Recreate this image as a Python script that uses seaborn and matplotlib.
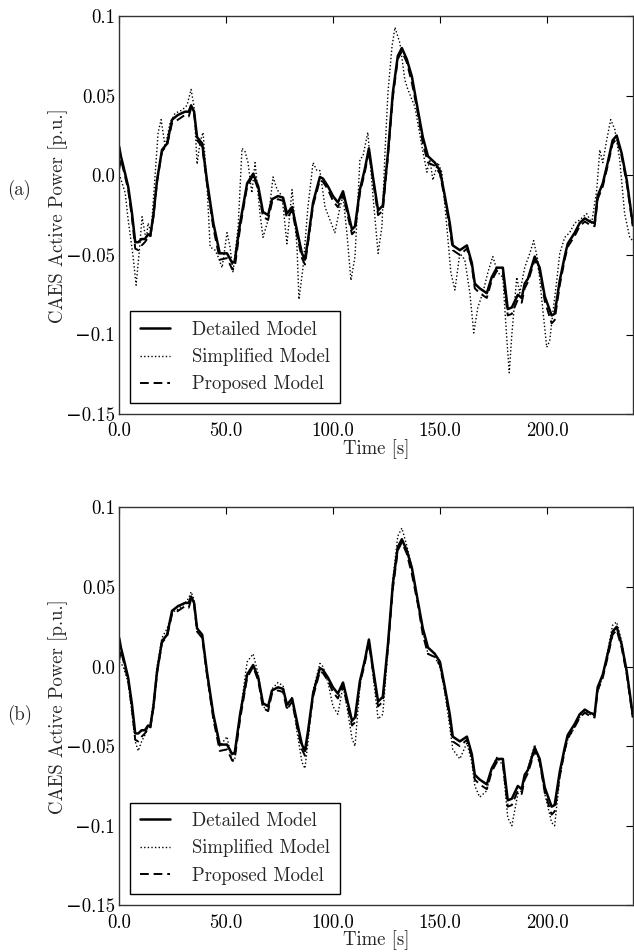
import numpy as np
import pandas as pd
import matplotlib
matplotlib.use("Agg")
import matplotlib.pyplot as plt
import seaborn as sns

# ---------------- data ----------------
t_det = [0, 0.8, 1.9, 4.2, 6.0, 7.5, 8.9, 10.5, 12.0, 13.5, 14.5, 16, 17.7, 20.0, 22.4, 24.7,
         27.5, 30.8, 32.5, 33.6, 35.0, 36.4, 38.8, 41.0, 44.0, 47.0, 50.4, 52.8, 54.0, 56.5,
         59.8, 62.6, 65.0, 67.2, 69.6, 71.4, 74.2, 76.6, 78.4, 80.8, 83.0, 85.4, 86.8, 88.2,
         90.6, 93.8, 95.2, 97.6, 99.9, 102.2, 104.6, 106.4, 108.8, 110.2, 112.5, 114.8, 116.7,
         118.6, 121.0, 123.2, 125.6, 127.9, 130.2, 132.1, 134.4, 136.8, 139.6, 141.9, 144.3,
         147.5, 149.9, 152.2, 154.5, 155.9, 159.2, 162.5, 164.8, 166.2, 168.5, 171.8, 174.1,
         176.5, 179.3, 181.6, 183.5, 186.3, 188.1, 189.5, 191.0, 194.2, 196.5, 198.9, 202.1,
         203.5, 205.9, 208.2, 209.6, 212.9, 215.2, 217.6, 219.9, 222.2, 223.6, 226.0, 228.3,
         230.6, 232.5, 234.8, 237.2, 240.0]

p_detailed = [0.018, 0.012, 0.006, -0.007, -0.024, -0.042, -0.042, -0.040, -0.040, -0.037,
              -0.038, -0.025, -0.003, 0.016, 0.020, 0.035, 0.038, 0.040, 0.040, 0.044, 0.040,
              0.024, 0.020, -0.003, -0.030, -0.049, -0.049, -0.055, -0.054, -0.030, -0.005,
              0.001, -0.007, -0.023, -0.025, -0.015, -0.013, -0.014, -0.024, -0.020, -0.034,
              -0.049, -0.053, -0.041, -0.017, -0.001, -0.002, -0.007, -0.013, -0.017, -0.010,
              -0.020, -0.034, -0.032, -0.009, 0.004, 0.017, -0.001, -0.022, -0.019, 0.014,
              0.052, 0.075, 0.080, 0.073, 0.062, 0.041, 0.024, 0.012, 0.008, 0.003, -0.013,
              -0.030, -0.044, -0.047, -0.044, -0.055, -0.068, -0.071, -0.074, -0.064, -0.058,
              -0.058, -0.084, -0.083, -0.075, -0.077, -0.068, -0.065, -0.051, -0.058, -0.076,
              -0.088, -0.087, -0.066, -0.051, -0.043, -0.036, -0.030, -0.027, -0.029, -0.030,
              -0.013, -0.005, 0.008, 0.022, 0.025, 0.014, -0.003, -0.030]

p_proposed = [0.004, 0.010, 0.004, -0.009, -0.027, -0.046, -0.047, -0.044, -0.042, -0.039,
              -0.039, -0.026, -0.004, 0.015, 0.019, 0.033, 0.035, 0.038, 0.037, 0.042, 0.039,
              0.022, 0.018, -0.005, -0.033, -0.053, -0.052, -0.059, -0.058, -0.033, -0.007,
              0.000, -0.009, -0.026, -0.028, -0.017, -0.015, -0.016, -0.027, -0.022, -0.037,
              -0.052, -0.056, -0.043, -0.019, -0.003, -0.004, -0.009, -0.016, -0.020, -0.012,
              -0.023, -0.037, -0.035, -0.011, 0.002, 0.015, -0.003, -0.025, -0.022, 0.012,
              0.049, 0.073, 0.078, 0.071, 0.058, 0.039, 0.020, 0.008, 0.006, 0.001, -0.015,
              -0.033, -0.047, -0.050, -0.046, -0.057, -0.071, -0.074, -0.077, -0.066, -0.060,
              -0.061, -0.088, -0.087, -0.078, -0.080, -0.071, -0.067, -0.053, -0.060, -0.079,
              -0.093, -0.091, -0.069, -0.053, -0.045, -0.038, -0.032, -0.029, -0.031, -0.032,
              -0.015, -0.007, 0.006, 0.020, 0.023, 0.012, -0.005, -0.032]

p_simplified_b = [0.003, 0.002, 0.000, -0.010, -0.030, -0.047, -0.053, -0.047, -0.043, -0.038,
                  -0.036, -0.022, 0.000, 0.018, 0.024, 0.034, 0.036, 0.040, 0.043, 0.047, 0.042,
                  0.024, 0.020, -0.005, -0.033, -0.050, -0.044, -0.060, -0.058, -0.030, 0.003,
                  0.008, -0.005, -0.025, -0.028, -0.014, -0.010, -0.012, -0.027, -0.019, -0.040,
                  -0.060, -0.064, -0.048, -0.015, 0.002, 0.000, -0.010, -0.025, -0.030, -0.012,
                  -0.025, -0.045, -0.050, -0.012, 0.005, 0.017, -0.005, -0.033, -0.030, 0.010,
                  0.055, 0.082, 0.087, 0.076, 0.062, 0.040, 0.022, 0.008, 0.006, 0.000, -0.016,
                  -0.038, -0.052, -0.058, -0.048, -0.060, -0.075, -0.082, -0.078, -0.064, -0.057,
                  -0.062, -0.095, -0.100, -0.080, -0.078, -0.070, -0.064, -0.049, -0.060, -0.080,
                  -0.098, -0.100, -0.070, -0.053, -0.046, -0.038, -0.032, -0.028, -0.030, -0.031,
                  -0.016, -0.006, 0.010, 0.026, 0.028, 0.016, -0.004, -0.032]

t_simp_a = [0, 2.8, 4.2, 6.5, 7.9, 9.3, 10.7, 12.6, 13.5, 14.9, 16.3, 18.2, 19.6, 21.5, 23.8,
            26.1, 29.4, 31.7, 33.6, 35.0, 36.4, 37.8, 39.2, 41.0, 42.5, 44.8, 46.2, 48.1, 50.4,
            51.8, 53.2, 55.6, 57.4, 58.8, 60.2, 62.0, 63.5, 65.8, 67.2, 69.6, 71.9, 73.8, 76.1,
            78.4, 80.8, 83.1, 84.0, 85.9, 88.2, 90.6, 92.4, 93.8, 96.2, 100.8, 103.2, 104.6,
            106.4, 108.3, 110.2, 112.5, 113.9, 116.2, 118.6, 121.0, 122.8, 124.2, 125.6, 127.5,
            128.9, 131.2, 133.5, 134.9, 138.2, 141.5, 143.8, 145.2, 146.6, 148.9, 150.8, 153.1,
            155.0, 156.9, 159.2, 161.5, 163.9, 165.7, 167.6, 169.9, 172.3, 174.6, 176.9, 179.3,
            181.0, 182.3, 183.5, 185.8, 187.2, 189.5, 191.9, 193.7, 195.6, 197.5, 199.8, 201.2,
            202.6, 204.5, 205.9, 208.2, 210.5, 212.9, 215.2, 218.5, 220.8, 223.2, 224.6, 226.0,
            227.8, 229.7, 231.6, 233.9, 236.2, 238.6, 240.0]

p_simplified_a = [0.001, -0.011, -0.028, -0.051, -0.069, -0.049, -0.026, -0.041, -0.030, -0.036,
                  -0.009, 0.027, 0.035, 0.018, 0.033, 0.039, 0.041, 0.044, 0.054, 0.043, 0.007,
                  0.021, 0.027, -0.005, -0.045, -0.047, -0.051, -0.058, -0.036, -0.045, -0.061,
                  -0.032, 0.017, 0.015, 0.008, -0.011, 0.008, -0.024, -0.039, -0.028, -0.001,
                  -0.009, -0.013, -0.043, -0.009, -0.045, -0.078, -0.058, -0.020, 0.008, 0.003,
                  0.003, -0.020, -0.036, -0.020, -0.013, -0.036, -0.066, -0.051, 0.010, 0.012,
                  0.027, -0.013, -0.049, -0.032, 0.014, 0.052, 0.081, 0.093, 0.083, 0.060, 0.054,
                  0.043, 0.018, 0.002, 0.010, -0.003, 0.008, 0.002, -0.032, -0.061, -0.072,
                  -0.049, -0.053, -0.074, -0.099, -0.083, -0.074, -0.061, -0.051, -0.061, -0.064,
                  -0.100, -0.124, -0.100, -0.064, -0.074, -0.058, -0.049, -0.041, -0.053, -0.078,
                  -0.108, -0.104, -0.087, -0.066, -0.049, -0.039, -0.036, -0.030, -0.028, -0.024,
                  -0.030, -0.009, 0.016, 0.008, 0.022, 0.035, 0.029, 0.010, -0.024, -0.039, -0.041]

series_labels = ["Detailed Model", "Simplified Model", "Proposed Model"]
yticks = [0.1, 0.05, 0.0, -0.05, -0.1, -0.15]
xticks = [0, 50, 100, 150, 200]
panel_labels = ["(a)", "(b)"]

# ---------------- style ----------------
sns.set_style("white")
plt.rcParams.update({
    "font.family": ["cmr10", "DejaVu Serif"],
    "mathtext.fontset": "cm",
    "axes.formatter.use_mathtext": True,
    "axes.unicode_minus": True,
    "font.size": 13.5,
    "xtick.direction": "in",
    "ytick.direction": "in",
    "xtick.top": True,
    "ytick.right": True,
    "xtick.major.size": 5,
    "ytick.major.size": 5,
    "xtick.major.width": 0.8,
    "ytick.major.width": 0.8,
    "axes.edgecolor": "#333333",
    "axes.linewidth": 1.0,
})

fig = plt.figure(figsize=(6.34, 9.52), dpi=100)
ax_a = fig.add_axes([0.188, 0.565, 0.810, 0.418])
ax_b = fig.add_axes([0.188, 0.049, 0.810, 0.418])

panels = [
    (ax_a, t_simp_a, p_simplified_a),
    (ax_b, t_det, p_simplified_b),
]

for (ax, ts, ps), plab in zip(panels, panel_labels):
    sns.lineplot(x=t_det, y=p_detailed, ax=ax, color="black", linewidth=1.8,
                 estimator=None, sort=False, label=series_labels[0])
    sns.lineplot(x=ts, y=ps, ax=ax, color="black", linewidth=1.0,
                 estimator=None, sort=False, label=series_labels[1])
    sns.lineplot(x=t_det, y=p_proposed, ax=ax, color="black", linewidth=1.4,
                 estimator=None, sort=False, label=series_labels[2])
    lines = ax.get_lines()
    lines[1].set_linestyle((0, (1, 1.6)))
    lines[2].set_linestyle((0, (4.5, 2.5)))

    ax.set_xlim(0, 240)
    ax.set_ylim(-0.15, 0.1)
    ax.set_xticks(xticks)
    ax.set_xticklabels([f"{v:.1f}" for v in xticks])
    ax.set_yticks(yticks)
    ax.set_yticklabels([f"{v:g}".replace("-", "\u2212") if v != 0.0 else "0.0"
                        for v in yticks])
    ax.tick_params(axis="x", labelsize=13.5, pad=6, colors="black")
    ax.tick_params(axis="y", labelsize=13.5, pad=3, colors="black")
    ax.set_xlabel("Time [s]", fontsize=13.5, labelpad=-1)
    ax.set_ylabel("CAES Active Power [p.u.]", fontsize=13.5)
    ax.yaxis.set_label_coords(-0.10, 0.5)
    leg = ax.legend(loc="lower left", frameon=True, fancybox=False, edgecolor="black",
                    framealpha=1, fontsize=13.5, handlelength=1.6, handletextpad=1.2,
                    borderaxespad=0.6, labelspacing=0.5, borderpad=0.5)
    leg.get_frame().set_linewidth(1.0)

fig.text(0.012, 0.8, panel_labels[0], fontsize=13.5, va="center", ha="left")
fig.text(0.012, 0.249, panel_labels[1], fontsize=13.5, va="center", ha="left")

fig.savefig("out.png", dpi=100)
